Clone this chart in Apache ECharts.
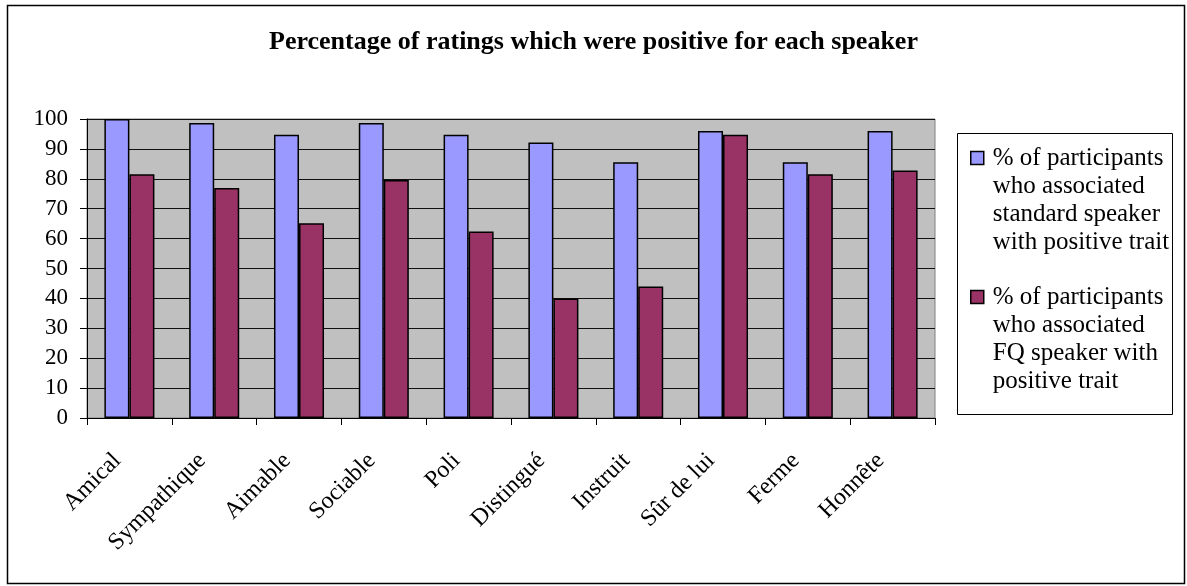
<!DOCTYPE html>
<html>
<head>
<meta charset="utf-8">
<script src="https://cdn.jsdelivr.net/npm/echarts@6/dist/echarts.min.js"></script>
<style>
html,body{margin:0;padding:0;background:#fff;}
#chart{width:1187px;height:586px;}
</style>
</head>
<body>
<div id="chart"></div>
<script>
const categories = ['Amical','Sympathique','Aimable','Sociable','Poli','Distingué','Instruit','Sûr de lui','Ferme','Honnête'];
const standardValues = [100, 98.7, 94.7, 98.7, 94.7, 92.1, 85.5, 96.0, 85.5, 96.0];
const fqValues = [81.5, 76.9, 65.1, 79.6, 62.4, 40.0, 44.0, 94.7, 81.5, 82.8];
const yTicks = [0,10,20,30,40,50,60,70,80,90,100];
const seriesNames = [
  '% of participants\nwho associated\nstandard speaker\nwith positive trait',
  '% of participants\nwho associated\nFQ speaker with\npositive trait'
];
const titleText = 'Percentage of ratings which were positive for each speaker';

const FONT = 'Liberation Serif, Times New Roman, serif';
const chart = echarts.init(document.getElementById('chart'), null, {renderer:'canvas'});

function legendCfg(name, top){
  return {
    data:[name], left:970, top:top, orient:'vertical', padding:0,
    itemWidth:13, itemHeight:13, selectedMode:false, icon:'rect',
    formatter:function(n){ return '\n\n\n' + n; },
    itemStyle:{borderColor:'#000', borderWidth:1.5},
    textStyle:{fontFamily:FONT, fontSize:25, color:'#000', lineHeight:28, padding:[0,0,0,4]}
  };
}

chart.setOption({
  backgroundColor:'#fff',
  animation:false,
  title:{text:titleText, left:'center', top:24,
    textStyle:{fontFamily:FONT, fontSize:26, fontWeight:'bold', color:'#000'}},
  legend:[legendCfg(seriesNames[0], 60), legendCfg(seriesNames[1], 199)],
  grid:{left:87, right:252, top:119, bottom:168, show:true,
    backgroundColor:'#c0c0c0', borderColor:'#808080', borderWidth:1},
  xAxis:{type:'category', data:categories,
    axisLine:{lineStyle:{color:'#000', width:1}},
    axisTick:{show:true, length:7, interval:0, lineStyle:{color:'#000'}},
    axisLabel:{interval:0, rotate:45, margin:27, padding:[0,17,0,0], fontFamily:FONT, fontSize:24, color:'#000'}},
  yAxis:{type:'value', min:yTicks[0], max:yTicks[yTicks.length-1], interval:yTicks[1]-yTicks[0],
    axisLine:{show:true, lineStyle:{color:'#000', width:1}},
    axisTick:{show:true, length:7, lineStyle:{color:'#000'}},
    axisLabel:{margin:19, fontFamily:FONT, fontSize:23, color:'#000'},
    splitLine:{show:true, lineStyle:{color:'#111', width:1}}},
  series:[
    {name:seriesNames[0], type:'bar', data:standardValues, barGap:'0%', barCategoryGap:'41%',
      itemStyle:{color:'#9999ff', borderColor:'#000', borderWidth:1.5}},
    {name:seriesNames[1], type:'bar', data:fqValues, barGap:'0%', barCategoryGap:'41%',
      itemStyle:{color:'#993366', borderColor:'#000', borderWidth:1.5}}
  ],
  graphic:[
    {type:'rect', shape:{x:7.5, y:5.5, width:1177, height:578}, style:{fill:null, stroke:'#000', lineWidth:1.5}, z:-1, silent:true},
    {type:'rect', shape:{x:957.5, y:133.5, width:215, height:281}, style:{fill:null, stroke:'#000', lineWidth:1}, silent:true}
  ]
});
</script>
</body>
</html>
